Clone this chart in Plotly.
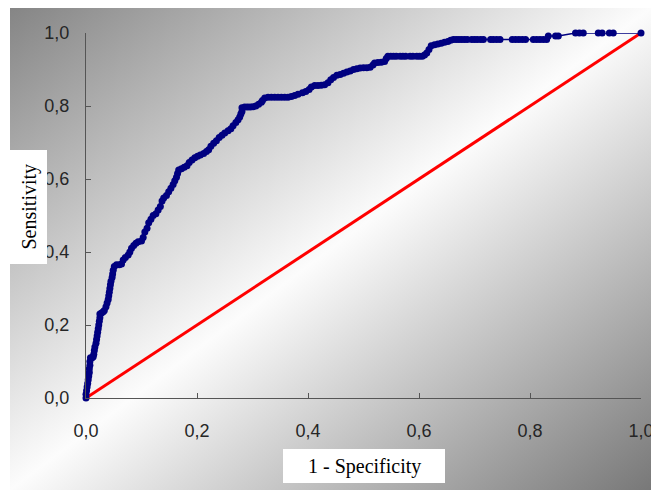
import base64
import plotly.graph_objects as go

# ---------------- data ----------------
FPR = [0.000, 0.000, 0.001, 0.002, 0.003, 0.004, 0.005, 0.006, 0.006, 0.007,
       0.007, 0.008, 0.011, 0.013, 0.014, 0.015, 0.016, 0.018, 0.019, 0.020,
       0.021, 0.022, 0.023, 0.024, 0.025, 0.025, 0.028, 0.031, 0.033, 0.036,
       0.038, 0.040, 0.041, 0.042, 0.043, 0.044, 0.045, 0.047, 0.048, 0.049,
       0.051, 0.055, 0.060, 0.064, 0.067, 0.071, 0.076, 0.079, 0.082, 0.086,
       0.090, 0.094, 0.100, 0.103, 0.106, 0.110, 0.113, 0.117, 0.121, 0.126,
       0.130, 0.134, 0.137, 0.140, 0.145, 0.149, 0.153, 0.157, 0.160, 0.163,
       0.165, 0.167, 0.172, 0.177, 0.182, 0.186, 0.191, 0.196, 0.201, 0.206,
       0.212, 0.217, 0.221, 0.225, 0.230, 0.235, 0.240, 0.245, 0.250, 0.256,
       0.261, 0.265, 0.270, 0.274, 0.277, 0.279, 0.281, 0.281, 0.286, 0.291,
       0.296, 0.301, 0.306, 0.311, 0.316, 0.318, 0.322, 0.328, 0.334, 0.340,
       0.346, 0.352, 0.358, 0.364, 0.370, 0.376, 0.382, 0.390, 0.396, 0.402,
       0.406, 0.412, 0.418, 0.424, 0.430, 0.436, 0.441, 0.446, 0.452, 0.458,
       0.464, 0.470, 0.476, 0.482, 0.488, 0.494, 0.500, 0.506, 0.512, 0.517,
       0.520, 0.526, 0.532, 0.538, 0.541, 0.544, 0.549, 0.554, 0.559, 0.566,
       0.571, 0.576, 0.584, 0.589, 0.596, 0.601, 0.606, 0.610, 0.614, 0.618,
       0.622, 0.628, 0.634, 0.640, 0.646, 0.652, 0.657, 0.662, 0.667, 0.672,
       0.677, 0.682, 0.687, 0.695, 0.700, 0.705, 0.711, 0.716, 0.729, 0.734,
       0.740, 0.746, 0.768, 0.774, 0.780, 0.786, 0.792, 0.806, 0.812, 0.818,
       0.824, 0.830, 0.833, 0.846, 0.851, 0.882, 0.889, 0.896, 0.923, 0.930,
       0.943, 0.950, 1.000]
TPR = [0.000, 0.010, 0.020, 0.030, 0.040, 0.050, 0.060, 0.070, 0.080, 0.090,
       0.100, 0.110, 0.110, 0.113, 0.120, 0.130, 0.140, 0.150, 0.160, 0.170,
       0.180, 0.190, 0.200, 0.210, 0.220, 0.230, 0.233, 0.236, 0.240, 0.250,
       0.260, 0.270, 0.280, 0.290, 0.300, 0.310, 0.320, 0.330, 0.340, 0.350,
       0.360, 0.365, 0.365, 0.367, 0.378, 0.385, 0.392, 0.400, 0.410, 0.418,
       0.424, 0.428, 0.430, 0.440, 0.455, 0.465, 0.480, 0.490, 0.500, 0.505,
       0.515, 0.525, 0.540, 0.548, 0.555, 0.565, 0.575, 0.585, 0.595, 0.605,
       0.615, 0.625, 0.628, 0.632, 0.636, 0.645, 0.652, 0.658, 0.662, 0.666,
       0.670, 0.675, 0.680, 0.690, 0.698, 0.705, 0.714, 0.720, 0.726, 0.732,
       0.738, 0.746, 0.755, 0.762, 0.770, 0.778, 0.785, 0.795, 0.797, 0.797,
       0.797, 0.798, 0.800, 0.805, 0.810, 0.815, 0.822, 0.824, 0.824, 0.824,
       0.824, 0.824, 0.824, 0.824, 0.826, 0.829, 0.832, 0.836, 0.840, 0.845,
       0.852, 0.856, 0.856, 0.857, 0.858, 0.864, 0.872, 0.878, 0.884, 0.886,
       0.890, 0.893, 0.896, 0.900, 0.902, 0.904, 0.905, 0.905, 0.906, 0.912,
       0.918, 0.919, 0.920, 0.922, 0.930, 0.936, 0.936, 0.936, 0.936, 0.936,
       0.936, 0.936, 0.936, 0.936, 0.936, 0.936, 0.936, 0.940, 0.945, 0.955,
       0.965, 0.968, 0.970, 0.972, 0.975, 0.977, 0.980, 0.982, 0.982, 0.982,
       0.982, 0.982, 0.982, 0.982, 0.982, 0.982, 0.982, 0.982, 0.982, 0.982,
       0.982, 0.982, 0.982, 0.982, 0.982, 0.982, 0.982, 0.982, 0.982, 0.982,
       0.982, 0.982, 0.992, 0.992, 0.992, 1.000, 1.000, 1.000, 1.000, 1.000,
       1.000, 1.000, 1.000]
DIAG_X = [0.0, 1.0]
DIAG_Y = [0.0, 1.0]
TICK_VALS = [0.0, 0.2, 0.4, 0.6, 0.8, 1.0]
TICK_TEXT = ["0,0", "0,2", "0,4", "0,6", "0,8", "1,0"]
X_TITLE = "1 - Specificity"
Y_TITLE = "Sensitivity"

# ---------------- layout geometry ----------------
W, H = 651, 490
L, R, T, B = 86, 10, 33, 92
PW, PH = W - L - R, H - T - B


def pxx(sx):
    """screen x pixel -> paper x"""
    return (sx - L) / PW


def pyy(sy):
    """screen y pixel -> paper y"""
    return (H - B - sy) / PH


# gradient background (diagonal grey -> white -> grey), screen rect 10..651 x 8..490
GX0, GY0, GW, GH = 10, 8, 641, 482
svg = (
    f'<svg xmlns="http://www.w3.org/2000/svg" width="{GW}" height="{GH}" '
    f'viewBox="0 0 {GW} {GH}" preserveAspectRatio="none">'
    '<defs><linearGradient id="g" x1="0" y1="0" x2="1" y2="1">'
    '<stop offset="0" stop-color="#858585"/>'
    '<stop offset="0.5" stop-color="#fcfcfc"/>'
    '<stop offset="1" stop-color="#787878"/>'
    '</linearGradient></defs>'
    f'<rect x="0" y="0" width="{GW}" height="{GH}" fill="url(#g)"/></svg>'
)
svg_uri = "data:image/svg+xml;base64," + base64.b64encode(svg.encode()).decode()

fig = go.Figure()
fig.add_trace(go.Scatter(
    x=DIAG_X, y=DIAG_Y, mode="lines",
    line=dict(color="#ff0000", width=3),
    cliponaxis=False, showlegend=False, hoverinfo="skip"))
fig.add_trace(go.Scatter(
    x=FPR, y=TPR, mode="lines+markers",
    line=dict(color="#000080", width=1.5),
    marker=dict(color="#000080", size=7, line=dict(width=0)),
    cliponaxis=False, showlegend=False))

axis_common = dict(
    range=[0, 1], showgrid=False, zeroline=False, automargin=False,
    showline=True, linecolor="#555555", linewidth=1,
    ticks="inside", ticklen=5, tickwidth=1, tickcolor="#555555",
    tickvals=TICK_VALS, ticktext=TICK_TEXT,
    tickfont=dict(family="Arial, Liberation Sans, sans-serif", size=18, color="#262626"),
    ticklabeloverflow="allow",
    fixedrange=True,
)
fig.update_xaxes(**axis_common, ticklabelstandoff=16)
fig.update_yaxes(**axis_common, ticklabelstandoff=12)

title_font = dict(family="Times New Roman, Liberation Serif, serif", size=20, color="#000000")
fig.update_layout(
    template="none",
    width=W, height=H, autosize=False,
    margin=dict(l=L, r=R, t=T, b=B, pad=0, autoexpand=False),
    paper_bgcolor="#ffffff", plot_bgcolor="rgba(0,0,0,0)",
    images=[dict(source=svg_uri, xref="paper", yref="paper",
                 x=pxx(GX0), y=pyy(GY0), sizex=GW / PW, sizey=GH / PH,
                 xanchor="left", yanchor="top", sizing="stretch", layer="below")],
    shapes=[
        dict(type="rect", xref="paper", yref="paper",
             x0=pxx(10), x1=pxx(47), y0=pyy(264), y1=pyy(150),
             fillcolor="#ffffff", line=dict(width=0), layer="above"),
        dict(type="rect", xref="paper", yref="paper",
             x0=pxx(283), x1=pxx(445), y0=pyy(483), y1=pyy(449),
             fillcolor="#ffffff", line=dict(width=0), layer="above"),
    ],
    annotations=[
        dict(text=Y_TITLE, xref="paper", yref="paper", x=pxx(28.5), y=pyy(207),
             textangle=-90, showarrow=False, font=title_font,
             xanchor="center", yanchor="middle"),
        dict(text=X_TITLE, xref="paper", yref="paper", x=pxx(364), y=pyy(466),
             showarrow=False, font=title_font, xanchor="center", yanchor="middle"),
    ],
)

fig.write_html(
    "out.html",
    config={"displayModeBar": False},
    post_script="document.body.style.margin='0';document.body.style.overflow='hidden';",
)
